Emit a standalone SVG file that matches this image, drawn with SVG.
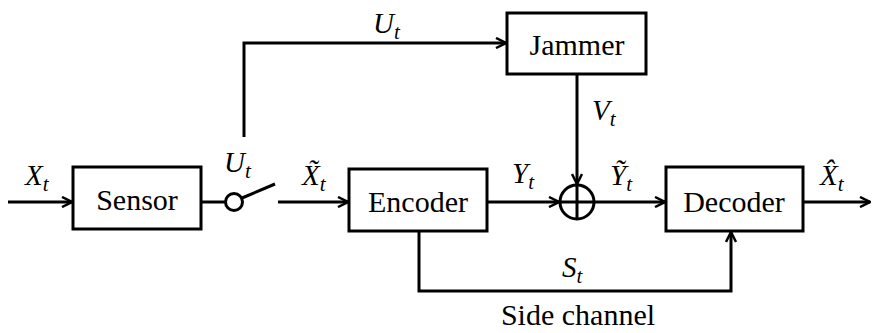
<svg xmlns="http://www.w3.org/2000/svg" width="872" height="333" viewBox="0 0 872 333">
<style>
.box{fill:#fff;stroke:#000;stroke-width:3}
.ln{fill:none;stroke:#000;stroke-width:3}
.lbl{font-size:30px;fill:#000;text-anchor:middle}
.m{font-style:italic;font-size:29px;fill:#000}
.s{font-size:21px}
</style>
<defs>
<marker id="arr" viewBox="0 0 12 12" refX="11" refY="6" markerWidth="12" markerHeight="12" markerUnits="userSpaceOnUse" orient="auto">
<path d="M1,1 L11,6 L1,11" fill="none" stroke="#000" stroke-width="2.5"/>
</marker>
</defs>
<rect width="872" height="333" fill="#fff"/>
<g id="connectors">
<line class="ln" x1="8" y1="202" x2="72" y2="202" marker-end="url(#arr)"/>
<line class="ln" x1="201" y1="202" x2="225" y2="202"/>
<circle class="ln" cx="234" cy="202" r="8.5"/>
<line class="ln" x1="242" y1="198" x2="275" y2="184"/>
<path class="ln" d="M244,137 V43 H506" marker-end="url(#arr)"/>
<line class="ln" x1="278" y1="202" x2="348" y2="202" marker-end="url(#arr)"/>
<line class="ln" x1="487" y1="202" x2="559" y2="202" marker-end="url(#arr)"/>
<line class="ln" x1="577" y1="74" x2="577" y2="184" marker-end="url(#arr)"/>
<line class="ln" x1="594" y1="202" x2="665" y2="202" marker-end="url(#arr)"/>
<line class="ln" x1="803" y1="202" x2="870" y2="202" marker-end="url(#arr)"/>
<path class="ln" d="M419,231 V291 H731 V232" marker-end="url(#arr)"/>
</g>
<g id="adder">
<circle class="ln" cx="577" cy="202" r="17"/>
<line class="ln" x1="560" y1="202" x2="594" y2="202"/>
<line class="ln" x1="577" y1="185" x2="577" y2="219"/>
</g>
<g font-family="Liberation Serif, Times New Roman, serif">
<g id="sensor">
<rect class="box" x="73" y="167" width="128" height="62"/>
<text class="lbl" x="137" y="210">Sensor</text>
</g>
<g id="encoder">
<rect class="box" x="349" y="169" width="138" height="62"/>
<text class="lbl" x="418" y="212">Encoder</text>
</g>
<g id="jammer">
<rect class="box" x="507" y="13" width="139" height="61"/>
<text class="lbl" x="577" y="55">Jammer</text>
</g>
<g id="decoder">
<rect class="box" x="666" y="167" width="137" height="64"/>
<text class="lbl" x="734" y="212">Decoder</text>
</g>
<g id="labels">
<text class="m" x="25" y="185">X<tspan class="s" dy="6">t</tspan></text>
<text class="m" x="224" y="172">U<tspan class="s" dy="6">t</tspan></text>
<text class="m" x="373" y="33">U<tspan class="s" dy="6">t</tspan></text>
<text class="m" x="592" y="120">V<tspan class="s" dy="6">t</tspan></text>
<text class="m" x="302" y="185">X̃<tspan class="s" dy="6">t</tspan></text>
<text class="m" x="512" y="183">Y<tspan class="s" dy="6">t</tspan></text>
<text class="m" x="610" y="185">Ỹ<tspan class="s" dy="6">t</tspan></text>
<text class="m" x="820" y="185">X̂<tspan class="s" dy="6">t</tspan></text>
<text class="m" x="562" y="277">S<tspan class="s" dy="6">t</tspan></text>
<text class="lbl" x="578" y="325">Side channel</text>
</g>
</g>
</svg>
